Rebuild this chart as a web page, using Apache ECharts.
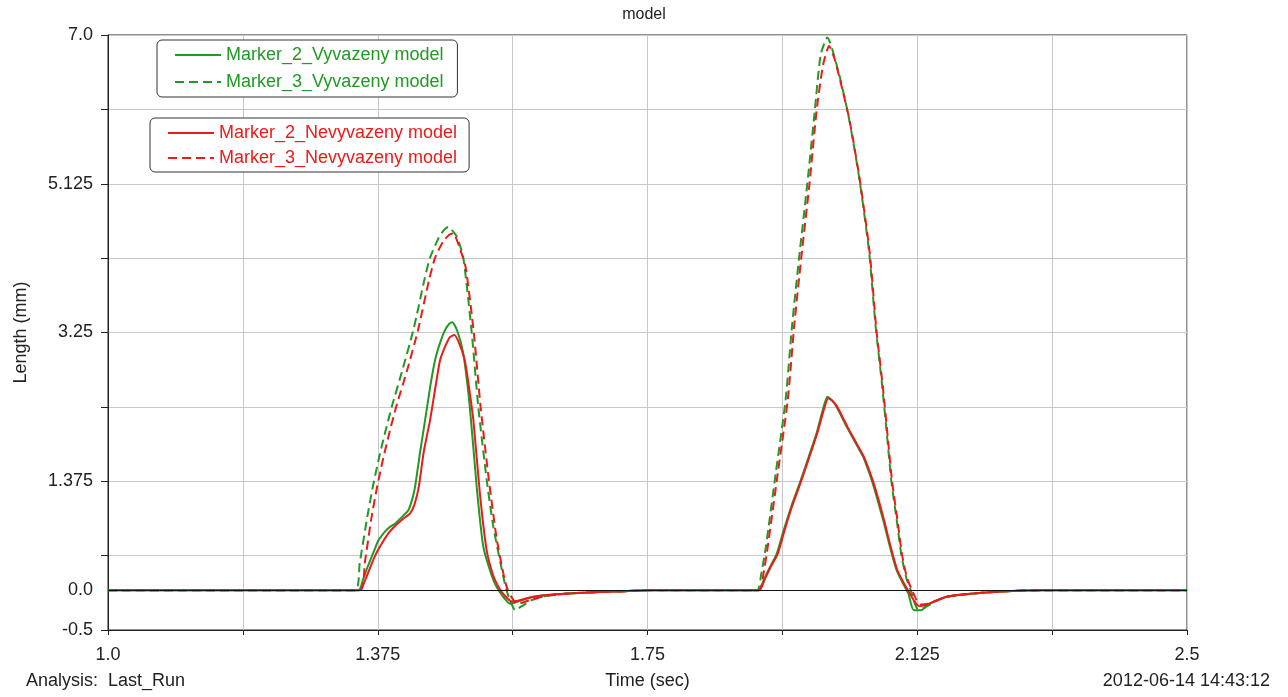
<!DOCTYPE html>
<html><head><meta charset="utf-8">
<script src="https://cdn.jsdelivr.net/npm/echarts@6/dist/echarts.min.js"></script>
<style>html,body{margin:0;padding:0;background:#fff}#c{width:1288px;height:697px}</style>
</head><body><div id="c"></div>
<script>
const seriesNames = ['Marker_2_Vyvazeny model','Marker_3_Vyvazeny model','Marker_2_Nevyvazeny model','Marker_3_Nevyvazeny model'];
const xTickLabels = ['1.0','1.375','1.75','2.125','2.5'];
const yTickLabels = ['-0.5','1.375','3.25','5.125','7.0'];
const xMin = 1.0, xMax = 2.5, xStep = 0.1875;
const yMin = -0.5, yMax = 7.0, yStep = 0.9375;

const m2Vyvazeny = [[1.0,0],[1.348,0],[1.355,0.15],[1.362,0.32],[1.37,0.5],[1.376,0.63],[1.385,0.74],[1.392,0.8],[1.399,0.84],[1.408,0.92],[1.4175,1.01],[1.423,1.15],[1.4268,1.3],[1.434,1.75],[1.4407,2.14],[1.4476,2.55],[1.4546,2.9],[1.4616,3.12],[1.4685,3.28],[1.4745,3.36],[1.4787,3.38],[1.486,3.26],[1.494,2.98],[1.503,2.31],[1.5126,1.3],[1.5218,0.55],[1.5357,0.13],[1.543,0],[1.551,-0.1],[1.559,-0.17],[1.57,-0.14],[1.587,-0.09],[1.61,-0.06],[1.64,-0.04],[1.684,-0.02],[1.72,-0.01],[1.75,0],[1.904,0],[1.912,0.14],[1.92,0.29],[1.9296,0.46],[1.9388,0.74],[1.95,1.06],[1.962,1.36],[1.974,1.68],[1.985,1.98],[1.993,2.25],[2.0,2.44],[2.006,2.4],[2.013,2.31],[2.027,2.06],[2.0385,1.87],[2.05,1.68],[2.0617,1.39],[2.0686,1.18],[2.0778,0.88],[2.087,0.55],[2.0964,0.25],[2.1056,0.08],[2.1126,-0.04],[2.12,-0.25],[2.131,-0.25],[2.138,-0.19],[2.166,-0.08],[2.203,-0.04],[2.249,-0.01],[2.3,0],[2.5,0]];

const m3Vyvazeny = [[1.0,0],[1.343,0],[1.35,0.35],[1.36,0.9],[1.368,1.3],[1.376,1.64],[1.385,1.98],[1.3944,2.31],[1.41,2.8],[1.425,3.3],[1.44,3.92],[1.4476,4.19],[1.46,4.45],[1.467,4.54],[1.473,4.58],[1.4847,4.46],[1.494,4.19],[1.5056,3.25],[1.5148,2.31],[1.5265,1.39],[1.5357,0.8],[1.5496,0.17],[1.554,0],[1.56,-0.15],[1.566,-0.25],[1.575,-0.2],[1.59,-0.12],[1.61,-0.07],[1.64,-0.04],[1.684,-0.02],[1.72,-0.01],[1.75,0],[1.902,0],[1.908,0.2],[1.9144,0.54],[1.9282,1.47],[1.942,2.4],[1.951,3.34],[1.9606,4.18],[1.972,5.11],[1.9825,6.04],[1.9907,6.75],[2.0,6.97],[2.0162,6.51],[2.029,6.0],[2.044,5.22],[2.058,4.27],[2.067,3.34],[2.076,2.6],[2.0835,1.9],[2.089,1.375],[2.097,0.85],[2.103,0.44],[2.11,0.15],[2.116,0],[2.121,-0.15],[2.126,-0.24],[2.135,-0.22],[2.15,-0.14],[2.166,-0.08],[2.203,-0.04],[2.249,-0.01],[2.3,0],[2.5,0]];

const m2Nevyvazeny = [[1.0,0],[1.35,0],[1.357,0.12],[1.365,0.3],[1.372,0.45],[1.38,0.58],[1.39,0.72],[1.4,0.82],[1.41,0.9],[1.42,0.97],[1.426,1.08],[1.432,1.3],[1.439,1.75],[1.4476,2.14],[1.455,2.55],[1.4616,2.9],[1.469,3.08],[1.475,3.19],[1.4815,3.22],[1.488,3.12],[1.496,2.9],[1.502,2.55],[1.508,2.14],[1.517,1.22],[1.5265,0.5],[1.535,0.2],[1.543,0.04],[1.55,-0.05],[1.561,-0.14],[1.57,-0.13],[1.587,-0.09],[1.61,-0.06],[1.64,-0.04],[1.684,-0.02],[1.72,-0.01],[1.75,0],[1.905,0],[1.913,0.14],[1.921,0.29],[1.931,0.46],[1.94,0.74],[1.951,1.06],[1.963,1.36],[1.975,1.68],[1.986,1.98],[1.994,2.24],[2.0014,2.42],[2.007,2.39],[2.014,2.31],[2.028,2.06],[2.0395,1.87],[2.051,1.68],[2.063,1.39],[2.07,1.18],[2.079,0.88],[2.088,0.55],[2.0975,0.25],[2.107,0.08],[2.114,-0.03],[2.122,-0.15],[2.128,-0.2],[2.138,-0.18],[2.166,-0.08],[2.203,-0.04],[2.249,-0.01],[2.3,0],[2.5,0]];

const m3Nevyvazeny = [[1.0,0],[1.35,0],[1.357,0.35],[1.366,0.9],[1.374,1.3],[1.382,1.64],[1.391,1.98],[1.4005,2.31],[1.416,2.78],[1.431,3.28],[1.446,3.9],[1.4546,4.19],[1.466,4.4],[1.474,4.48],[1.48,4.5],[1.488,4.34],[1.497,4.08],[1.5085,3.25],[1.518,2.31],[1.5295,1.39],[1.54,0.67],[1.551,0.15],[1.556,0],[1.562,-0.1],[1.568,-0.17],[1.578,-0.15],[1.59,-0.11],[1.61,-0.07],[1.64,-0.04],[1.684,-0.02],[1.72,-0.01],[1.75,0],[1.905,0],[1.911,0.2],[1.917,0.54],[1.931,1.47],[1.945,2.4],[1.954,3.34],[1.9636,4.18],[1.975,5.11],[1.985,6.04],[1.994,6.62],[2.0025,6.86],[2.01,6.7],[2.018,6.42],[2.031,5.92],[2.045,5.18],[2.059,4.25],[2.068,3.3],[2.077,2.58],[2.0845,1.88],[2.09,1.375],[2.098,0.85],[2.104,0.44],[2.111,0.15],[2.118,0],[2.124,-0.12],[2.13,-0.18],[2.14,-0.17],[2.166,-0.08],[2.203,-0.04],[2.249,-0.01],[2.3,0],[2.5,0]];

const GREEN = '#1f9a22';
const RED = '#ec1a1a';
const TXT = '#222';
const FONT = 'Liberation Sans, Arial, sans-serif';

const chart = echarts.init(document.getElementById('c'), null, {renderer:'canvas'});

function xFmt(v){
  const k = Math.round((v - xMin) / xStep);
  return k % 2 === 0 ? (xTickLabels[k/2] || '') : '';
}
function yFmt(v){
  const k = Math.round((v - yMin) / yStep);
  return k % 2 === 0 ? (yTickLabels[k/2] || '') : '';
}

function mkSeries(name, data, color, dashed, withZero){
  const s = {
    name, type:'line', data, showSymbol:false, symbol:'none', smooth:0.2,
    lineStyle:{color, width:2, type: dashed ? [9,5] : 'solid'},
    itemStyle:{color}, animation:false, silent:true
  };
  if (withZero) {
    s.markLine = {
      silent:true, symbol:['none','none'], animation:false,
      lineStyle:{color:'#111', type:'solid', width:1},
      label:{show:true, position:'start', formatter:'0.0', fontSize:18, color:TXT, fontFamily:FONT, distance:15},
      data:[{yAxis:0}]
    };
  }
  return s;
}

const legendCommon = {
  orient:'vertical', itemWidth:46, itemHeight:14, selectedMode:false,
  backgroundColor:'#fff', borderColor:'#333', borderWidth:1, borderRadius:5,
  itemStyle:{color:'rgba(0,0,0,0)', borderWidth:0, opacity:0}
};

chart.setOption({
  backgroundColor:'#fff',
  animation:false,
  textStyle:{fontFamily:FONT},
  title:[
    {text:'model', left:'center', top:7, padding:0, textStyle:{fontSize:16, fontWeight:'normal', color:TXT, fontFamily:FONT}},
    {text:'Analysis:  Last_Run', left:26, top:672, padding:0, textStyle:{fontSize:18, fontWeight:'normal', color:TXT, fontFamily:FONT}},
    {text:'2012-06-14 14:43:12', right:18, top:672, padding:0, textStyle:{fontSize:18, fontWeight:'normal', color:TXT, fontFamily:FONT}}
  ],
  legend:[
    Object.assign({}, legendCommon, {data:[seriesNames[0], seriesNames[1]], left:157, top:40,
     padding:[5,14,5,17], itemGap:7,
     textStyle:{color:GREEN, fontSize:18, fontFamily:FONT, lineHeight:20}}),
    Object.assign({}, legendCommon, {data:[seriesNames[2], seriesNames[3]], left:150, top:118,
     padding:[5,12,4,17], itemGap:5,
     textStyle:{color:RED, fontSize:18, fontFamily:FONT, lineHeight:20}})
  ],
  grid:{left:108, right:101, top:35, bottom:67, containLabel:false, outerBoundsMode:'none',
        show:true, borderColor:'#222', borderWidth:1, backgroundColor:'#fff'},
  xAxis:{
    type:'value', min:xMin, max:xMax, interval:xStep,
    name:'Time (sec)', nameLocation:'middle', nameGap:42,
    nameTextStyle:{fontSize:18, color:TXT, fontFamily:FONT},
    axisLine:{show:true, onZero:false, lineStyle:{color:'#222', width:1}},
    axisTick:{show:true, inside:false, length:5, lineStyle:{color:'#222'}},
    axisLabel:{show:true, formatter:xFmt, fontSize:18, color:TXT, fontFamily:FONT, margin:16, showMinLabel:true, showMaxLabel:true, hideOverlap:false},
    splitLine:{show:true, lineStyle:{color:'#c8c8c8', width:1}}
  },
  yAxis:{
    type:'value', min:yMin, max:yMax, interval:yStep,
    name:'Length (mm)', nameLocation:'middle', nameGap:78, nameRotate:90,
    nameTextStyle:{fontSize:18, color:TXT, fontFamily:FONT},
    axisLine:{show:true, onZero:false, lineStyle:{color:'#222', width:1}},
    axisTick:{show:true, inside:false, length:7, lineStyle:{color:'#222'}},
    axisLabel:{show:true, formatter:yFmt, fontSize:18, color:TXT, fontFamily:FONT, margin:15, showMinLabel:true, showMaxLabel:true, hideOverlap:false},
    splitLine:{show:true, lineStyle:{color:'#c8c8c8', width:1}}
  },
  series:[
    mkSeries(seriesNames[0], m2Vyvazeny, GREEN, false, true),
    mkSeries(seriesNames[1], m3Vyvazeny, GREEN, true, false),
    mkSeries(seriesNames[2], m2Nevyvazeny, RED, false, false),
    mkSeries(seriesNames[3], m3Nevyvazeny, RED, true, false)
  ]
});
</script>
</body></html>
